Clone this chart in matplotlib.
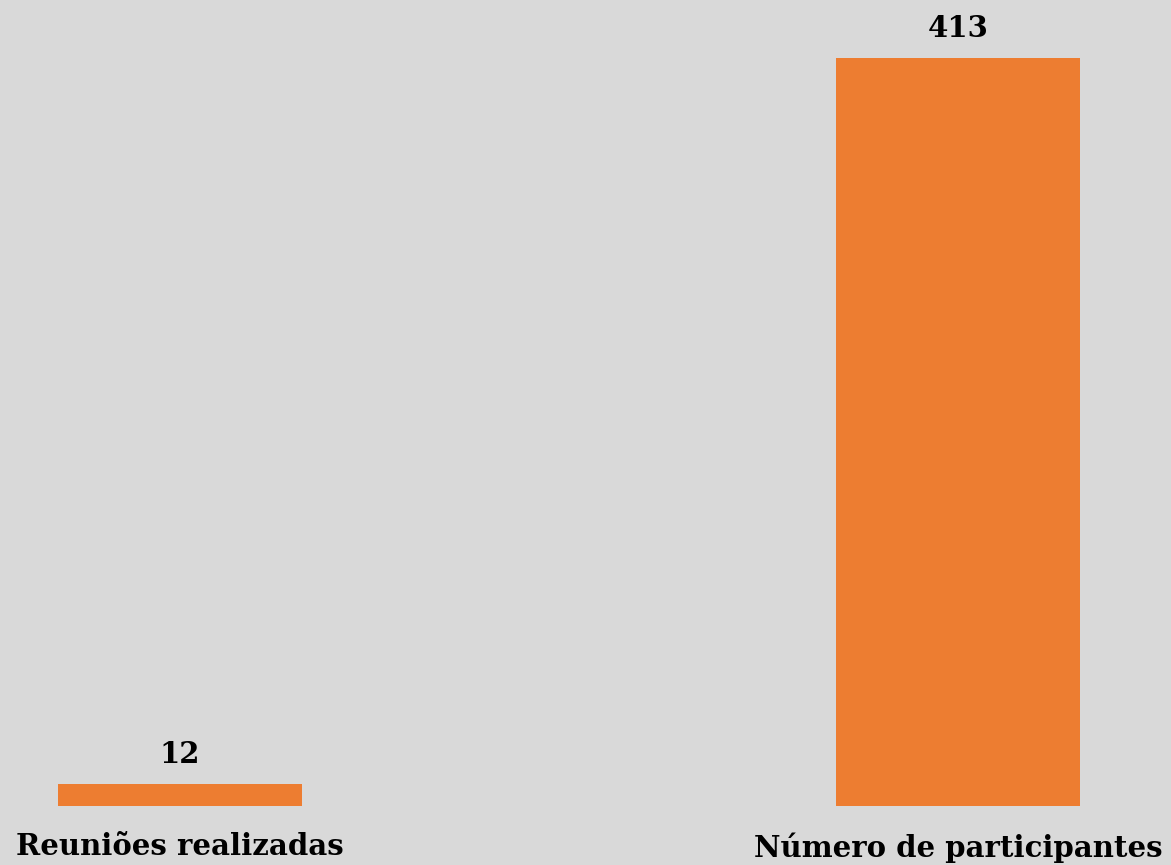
import matplotlib.pyplot as plt

categorias = ['Reuniões realizadas', 'Número de participantes']
valores = [12, 413]

fundo = '#D9D9D9'
laranja = '#ED7D31'

fig = plt.figure(figsize=(11.71, 8.65), dpi=100, facecolor=fundo)
ax = fig.add_axes([0, 0.0682, 1, 0.8647])
ax.set_facecolor(fundo)

pos = range(len(categorias))
barras = ax.bar(pos, valores, width=0.3136, color=laranja)

# rótulos de valor acima das barras
for b, v in zip(barras, valores):
    ax.annotate(str(v), (b.get_x() + b.get_width() / 2, v),
                xytext=(0, 11), textcoords='offset points',
                ha='center', va='bottom', fontsize=21,
                fontweight='bold', family='DejaVu Serif')

ax.set_xlim(-0.2314, 1.2738)
ax.set_ylim(0, 413)
ax.set_xticks(list(pos))
ax.set_xticklabels(categorias, fontsize=21, fontweight='bold', family='DejaVu Serif')
ax.tick_params(axis='x', length=0, pad=19)
ax.set_yticks([])
for s in ax.spines.values():
    s.set_visible(False)

fig.savefig('out.png', dpi=100, facecolor=fundo)
